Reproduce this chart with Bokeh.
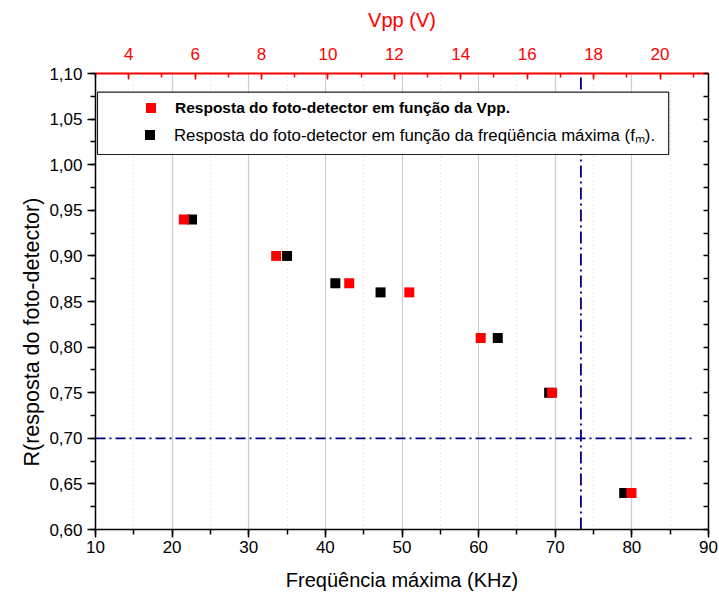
from bokeh.plotting import figure
from bokeh.models import (Range1d, LinearAxis, SingleIntervalTicker, FixedTicker,
                          CustomJSTickFormatter, Legend, LegendItem, BoxAnnotation, Title)
from bokeh.embed import file_html
from bokeh.resources import INLINE

# ---- data ----
R_fm = [0.94, 0.90, 0.87, 0.86, 0.81, 0.75, 0.64]
fm_khz = [22.6, 35.0, 41.3, 47.2, 62.5, 69.2, 79.0]
R_vpp = [0.94, 0.90, 0.87, 0.86, 0.81, 0.75, 0.64]
vpp_volts = [5.66, 8.44, 10.64, 12.45, 14.60, 16.75, 19.14]

R_threshold = 0.70
fm_cutoff = 73.35
hline_x = [10.0, 88.3]
vline_y = [0.60, 1.10]

label_vpp = "Resposta do foto-detector em função da Vpp."
label_fm = "Resposta do foto-detector em função da freqüência máxima (fₘ)."

FONT = "Liberation Sans"
Y0, Y1 = 0.60, 1.10

p = figure(width=719, height=597, x_range=Range1d(10, 90), y_range=Range1d(Y0, Y1),
           output_backend="svg", toolbar_location=None,
           min_border_left=95, min_border_right=11, min_border_top=73, min_border_bottom=68)
p.extra_x_ranges = {"vpp": Range1d(3.0, 21.46)}
p.outline_line_color = None
p.background_fill_color = "white"
p.border_fill_color = "white"

# bottom axis
bticker = SingleIntervalTicker(interval=10, num_minor_ticks=2)
bx = p.below[0]
bx.ticker = bticker
bx.axis_label = "Freqüência máxima (KHz)"
bx.axis_label_text_font = FONT
bx.axis_label_text_font_size = "20px"
bx.axis_label_text_font_style = "normal"
bx.axis_label_text_color = "black"
bx.axis_label_standoff = 13
bx.major_label_text_font = FONT
bx.major_label_text_font_size = "17px"
bx.major_label_text_color = "black"
bx.major_label_standoff = 3
bx.major_tick_out = 8
bx.major_tick_in = 0
bx.minor_tick_out = 5
bx.minor_tick_in = 0
bx.axis_line_color = "black"
bx.major_tick_line_color = "black"
bx.minor_tick_line_color = "black"
bx.axis_line_width = 1.5
bx.major_tick_line_width = 1.5
bx.minor_tick_line_width = 1.5

# left axis
lticker = SingleIntervalTicker(interval=0.05, num_minor_ticks=2)
ly = p.left[0]
ly.ticker = lticker
ly.formatter = CustomJSTickFormatter(code="return tick.toFixed(2).replace('.', ',');")
ly.major_label_text_font = FONT
ly.major_label_text_font_size = "17px"
ly.major_label_text_color = "black"
ly.major_label_standoff = 5
ly.major_tick_out = 8
ly.major_tick_in = 0
ly.minor_tick_out = 5
ly.minor_tick_in = 0
ly.axis_line_color = "black"
ly.major_tick_line_color = "black"
ly.minor_tick_line_color = "black"
ly.axis_line_width = 1.5
ly.major_tick_line_width = 1.5
ly.minor_tick_line_width = 1.5

# y-axis title, in the left panel, placed lower like the reference
p.add_layout(Title(text="R(resposta do foto-detector)", align="left", offset=63,
                   text_font=FONT, text_font_size="21.5px", text_font_style="normal",
                   text_color="black", standoff=6), "left")

# right axis (ticks only, no labels)
rticks = [round(Y0 + 0.025 * i, 3) for i in range(int(round((Y1 - Y0) / 0.025)) + 1)]
ry = LinearAxis(ticker=FixedTicker(ticks=[], minor_ticks=rticks))
ry.major_tick_in = 0
ry.major_tick_out = 0
ry.minor_tick_in = 5
ry.minor_tick_out = 0
ry.axis_line_color = "black"
ry.minor_tick_line_color = "black"
ry.axis_line_width = 1.5
ry.minor_tick_line_width = 1.5
p.add_layout(ry, "right")

# top axis (Vpp), red
tx = LinearAxis(x_range_name="vpp", axis_label="Vpp (V)",
                ticker=SingleIntervalTicker(interval=2, num_minor_ticks=2))
tx.axis_line_color = "red"
tx.axis_line_width = 2
tx.major_tick_line_color = "red"
tx.minor_tick_line_color = "red"
tx.major_tick_line_width = 1.5
tx.minor_tick_line_width = 1.5
tx.major_tick_in = 6
tx.major_tick_out = 0
tx.minor_tick_in = 4
tx.minor_tick_out = 0
tx.major_label_text_color = "red"
tx.major_label_text_font = FONT
tx.major_label_text_font_size = "17px"
tx.major_label_standoff = 14
tx.axis_label_text_color = "red"
tx.axis_label_text_font = FONT
tx.axis_label_text_font_size = "20px"
tx.axis_label_text_font_style = "normal"
tx.axis_label_standoff = 14
p.add_layout(tx, "above")

# grid
p.xgrid.ticker = bticker
p.xgrid.grid_line_color = "#cccccc"
p.xgrid.grid_line_width = 1.2
p.xgrid.minor_grid_line_color = "#d2d2d2"
p.xgrid.minor_grid_line_dash = "1 3"
p.ygrid.visible = False

# reference lines
p.line(x=hline_x, y=[R_threshold, R_threshold], line_color="#000080", line_width=1.8,
       line_dash="10 4 2 4")
p.line(x=[fm_cutoff, fm_cutoff], y=vline_y, line_color="#000080", line_width=1.8,
       line_dash="12 4 2 4")

# data
r_black = p.scatter(x=fm_khz, y=R_fm, marker="square", size=10, fill_color="black",
                    line_color=None)
r_red = p.scatter(x=vpp_volts, y=R_vpp, marker="square", size=10, fill_color="red",
                  line_color=None, x_range_name="vpp")

# legend frame
box = BoxAnnotation(left=10.26, right=84.8, top=1.0795, bottom=1.0112,
                    fill_color="white", fill_alpha=1.0, line_color="#222222",
                    line_width=1.2, line_alpha=1.0)
p.add_layout(box)

common = dict(padding=0, margin=0, spacing=0, glyph_width=25, glyph_height=25,
              label_standoff=12, border_line_alpha=0, background_fill_alpha=0,
              label_text_font=FONT, label_text_color="black")
leg1 = Legend(items=[LegendItem(label=label_vpp, renderers=[r_red])],
              location=(43, 409), label_text_font_style="bold",
              label_text_font_size="15.5px", **common)
leg2 = Legend(items=[LegendItem(label=label_fm, renderers=[r_black])],
              location=(42, 382), label_text_font_style="normal",
              label_text_font_size="16.8px", **common)
p.add_layout(leg1)
p.add_layout(leg2)

open("out.html", "w").write(file_html(p, INLINE))
